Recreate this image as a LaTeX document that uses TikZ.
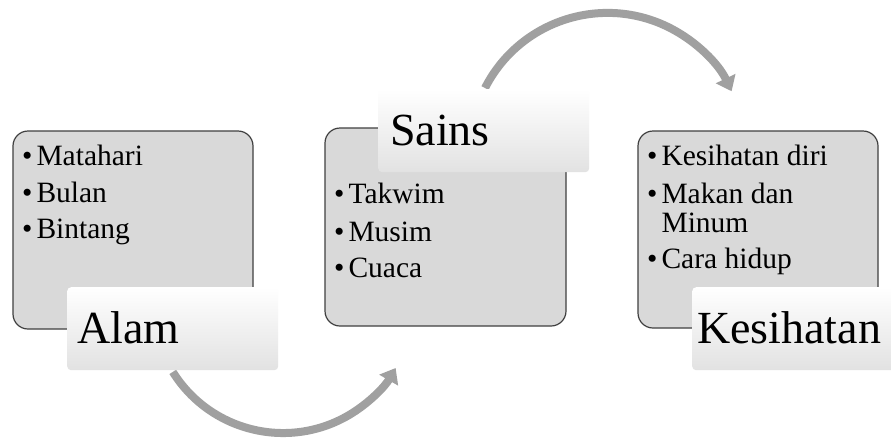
\documentclass[tikz,border=0pt]{standalone}
\usepackage{fontspec}
\setmainfont{Liberation Serif}
\usetikzlibrary{arrows.meta}
\definecolor{boxfill}{RGB}{217,217,217}
\definecolor{boxline}{RGB}{64,64,64}
\definecolor{arrowgray}{RGB}{160,160,160}
\definecolor{lblbottom}{RGB}{226,226,226}
\begin{document}
\begin{tikzpicture}[x=1pt,y=1pt,
  listbox/.style={draw=boxline, fill=boxfill, line width=1.2pt, rounded corners=15pt},
  lblbox/.style={rounded corners=4pt, top color=white, middle color=white, bottom color=lblbottom, draw=none, inner sep=0pt, anchor=north west, minimum width=211pt, minimum height=83pt},
  lbltext/.style={font=\fontsize{46}{50}\selectfont, inner sep=0pt, anchor=base west},
  itemtext/.style={font=\fontsize{29.5}{30}\selectfont, inner sep=0pt, anchor=base west},
  flowarrow/.style={draw=arrowgray, line width=8pt, -{Triangle[width=21pt,length=14pt]}}
]
\useasboundingbox (0,0) rectangle (891,-437);
\clip (0,0) rectangle (891,-437);
\fill[white] (0,0) rectangle (891,-437);

% arrows
\coordinate (a1s) at (172.8,-371.9);
\coordinate (a2s) at (485,-88);
\draw[flowarrow] (a1s) arc[start angle=212, end angle=330, radius=130];
\draw[flowarrow] (a2s) arc[start angle=153, end angle=25.5, radius=137.5];

% list boxes
\draw[listbox] (13,-131) rectangle (253,-329);
\draw[listbox] (325,-128) rectangle (566,-326);
\draw[listbox] (638,-131) rectangle (878,-328);

% box 1 items
\node[itemtext] (b1i1) at (22,-165) {•\hspace{4pt}Matahari};
\node[itemtext] (b1i2) at (22,-202) {•\hspace{4pt}Bulan};
\node[itemtext] (b1i3) at (22,-238) {•\hspace{4pt}Bintang};

% box 2 items
\node[itemtext] (b2i1) at (334,-203) {•\hspace{4pt}Takwim};
\node[itemtext] (b2i2) at (334,-241) {•\hspace{4pt}Musim};
\node[itemtext] (b2i3) at (334,-277) {•\hspace{4pt}Cuaca};

% box 3 items
\node[itemtext] (b3i1) at (647,-165) {•\hspace{4pt}Kesihatan diri};
\node[itemtext] (b3i2) at (647,-203) {•\hspace{4pt}Makan dan};
\node[itemtext] (b3i2b) at (647,-232) {\phantom{•}\hspace{4pt}Minum};
\node[itemtext] (b3i3) at (647,-268) {•\hspace{4pt}Cara hidup};

% labels
\node[lblbox] (alamlbl) at (67,-287) {};
\node[lbltext] (alamtxt) at (77,-343) {Alam};
\node[lblbox] (sainslbl) at (378,-89) {};
\node[lbltext] (sainstxt) at (390,-145) {Sains};
\node[lblbox] (kesilbl) at (692,-287) {};
\node[lbltext] (kesitxt) at (697,-343) {Kesihatan};
\end{tikzpicture}
\end{document}
